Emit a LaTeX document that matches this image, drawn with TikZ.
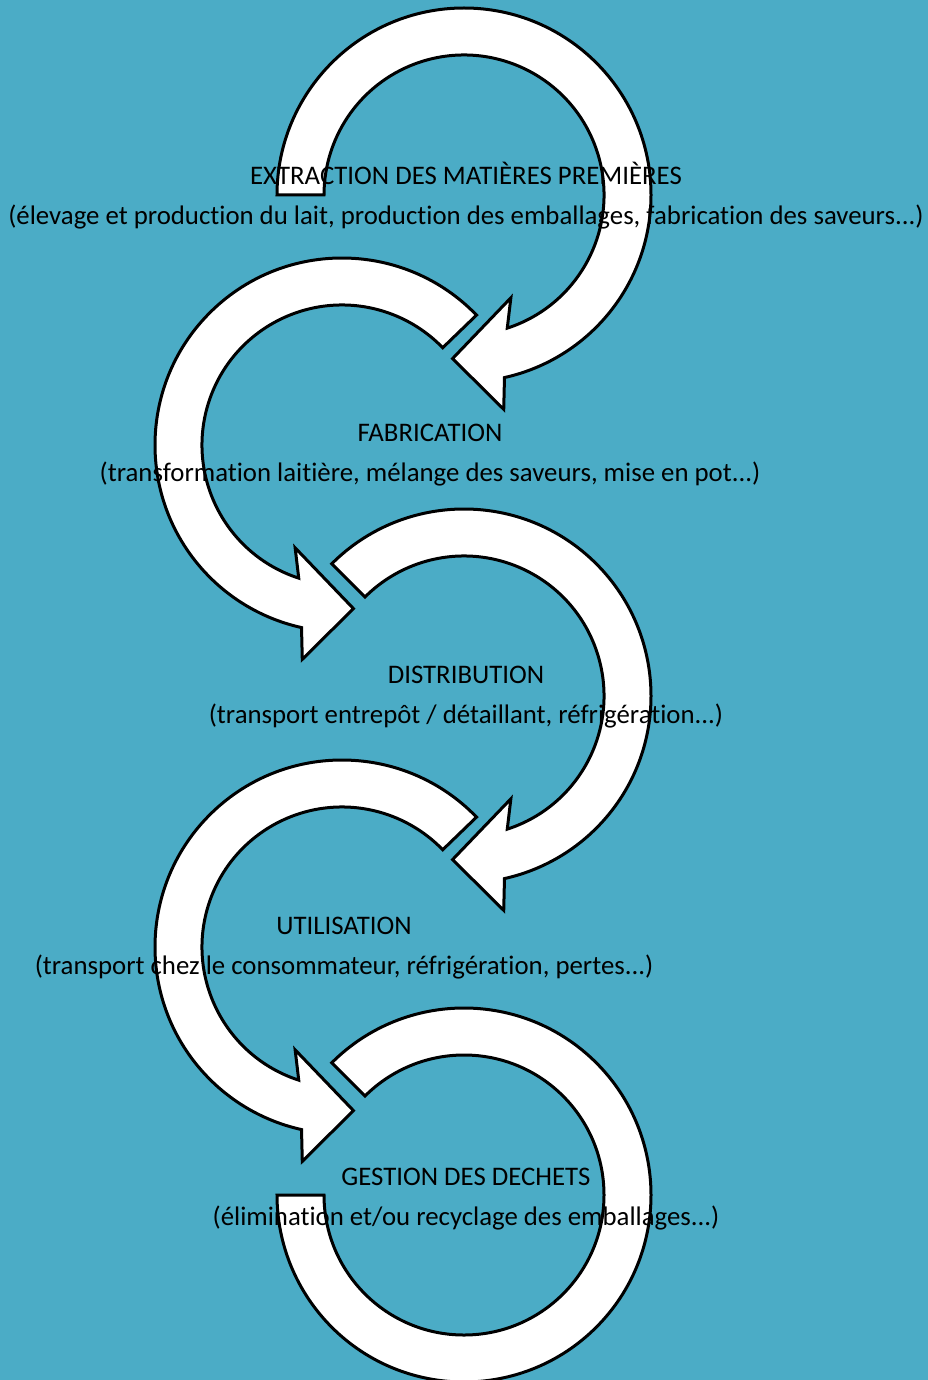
\documentclass[tikz,border=0pt]{standalone}
\usepackage{fontspec}
\setmainfont{Carlito}[Ligatures={NoCommon}]
\definecolor{sea}{HTML}{4BACC6}

% clockwise loop arrow: centre, tail angle
\newcommand{\cwloop}[2]{%
  \path[bigarrow, shift={(#1)}] (#2:140) -- (#2:187)
    arc[start angle=#2, end angle=-77.5, radius=187] -- (-79.5:218) -- (-94:164)
    -- (-65.5:113) -- (-72:140) arc[start angle=-72, end angle=#2, radius=140] -- cycle;}
% counter-clockwise loop arrow: centre, tail angle
\newcommand{\ccwloop}[2]{%
  \path[bigarrow, shift={(#1)}] (#2:140) -- (#2:187)
    arc[start angle=#2, end angle=257.5, radius=187] -- (259.5:218) -- (274:164)
    -- (245.5:113) -- (252:140) arc[start angle=252, end angle=#2, radius=140] -- cycle;}

\begin{document}
\begin{tikzpicture}[x=1pt,y=1pt]

      \tikzset{bigarrow/.style={draw=black, fill=white, line width=3pt, line join=miter},
               stage/.style={align=center, text=black, font=\fontsize{26.8}{40}\selectfont}}
      \fill[sea] (0,0) rectangle (928,-1380);
      \useasboundingbox (0,0) rectangle (928,-1380);
%% Centres
      	\coordinate (c1) at (464,-195);
      	\coordinate (c2) at (342,-445);
      	\coordinate (c3) at (464,-696);
      	\coordinate (c4) at (342,-947);
      	\coordinate (c5) at (464,-1195);
%% Arrows
		\cwloop{c1}{180}
		\ccwloop{c2}{44}
		\cwloop{c3}{135}
		\ccwloop{c4}{44}
		\path[bigarrow, shift={(c5)}] (135:140) -- (135:187)
		  arc[start angle=135, end angle=-180, radius=187] -- (-180:140)
		  arc[start angle=-180, end angle=135, radius=140] -- cycle;
%% Stages
		\node[stage] (extraction) at (466,-196) {EXTRACTION DES MATIÈRES PREMIÈRES\\(élevage et production du lait, production des emballages, fabrication des saveurs...)};
		\node[stage] (fabrication) at (430,-455) {FABRICATION\\(transformation laitière, mélange des saveurs, mise en pot...)};
		\node[stage] (distribution) at (466,-697) {DISTRIBUTION\\(transport entrepôt / détaillant, réfrigération...)};
		\node[stage] (utilisation) at (344,-948) {UTILISATION\\(transport chez le consommateur, réfrigération, pertes...)};
		\node[stage] (dechets) at (466,-1199) {GESTION DES DECHETS\\(élimination et/ou recyclage des emballages...)};

	\end{tikzpicture}
\end{document}
